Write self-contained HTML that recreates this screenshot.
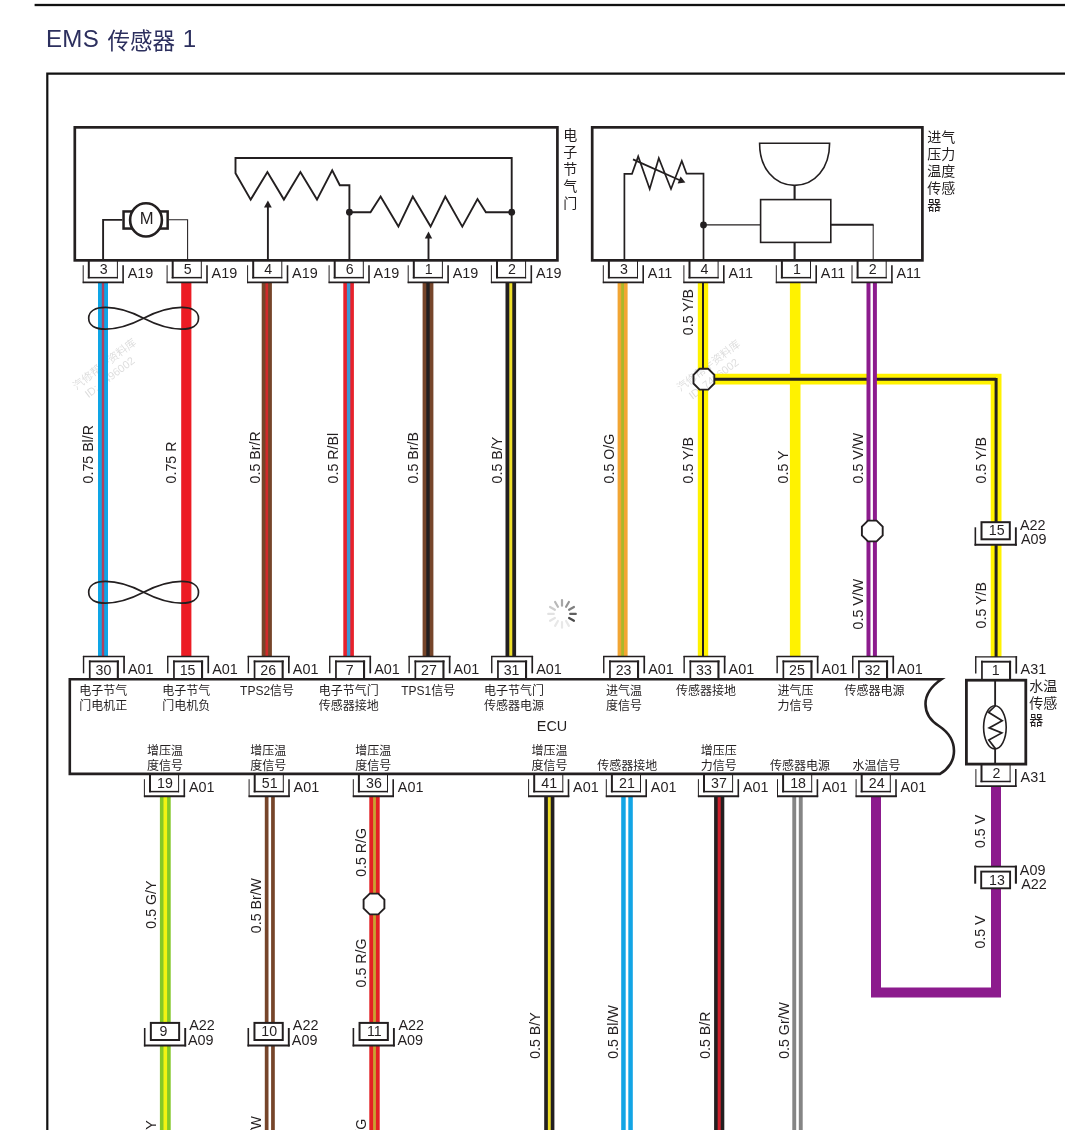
<!DOCTYPE html>
<html lang="zh-CN">
<head>
<meta charset="utf-8">
<title>EMS 传感器 1</title>
<style>
html,body{margin:0;padding:0;background:#fff;}
body{width:1065px;height:1130px;overflow:hidden;position:relative;font-family:"Liberation Sans", "Noto Sans CJK SC", sans-serif;}
svg{position:absolute;left:0;top:0;display:block;will-change:transform;}
text{font-family:"Liberation Sans", "Noto Sans CJK SC", sans-serif;fill:#231f20;}
.n{font-size:14.2px;}
.l{font-size:14.4px;}
.w{font-size:14.2px;}
.c{font-size:12px;}
.s{font-size:14px;}
.h{font-size:23.8px;fill:#2c2f5e;}
.wm{font-size:10.9px;fill:#000;fill-opacity:0.14;}
</style>
</head>
<body>
<svg width="1065" height="1130" viewBox="0 0 1065 1130">
<rect width="1065" height="1130" fill="#fff"/>

<rect x="34.6" y="3.85" width="1030.4" height="2.3" fill="#111"/>
<text x="45.9" y="47.4" class="h"><tspan style="font-size:24.1px;letter-spacing:0.3px">EMS </tspan><tspan x="107.6" dy="2.0" style="font-size:22.5px">传感器</tspan><tspan x="176.0" dy="-2.0" style="font-size:24.1px"> 1</tspan></text>
<path d="M47.3 1130 V73.7 H1065" fill="none" stroke="#111" stroke-width="2.2"/>
<g><g transform="translate(76.6 390.2) rotate(-37.5)"><text x="0" y="0" class="wm">汽修帮手资料库</text><text x="4.5" y="13.6" class="wm">ID: 7496002</text></g></g>
<g><g transform="translate(680.6 391.8) rotate(-37.5)"><text x="0" y="0" class="wm">汽修帮手资料库</text><text x="4.5" y="13.6" class="wm">ID: 7496002</text></g></g>
<rect x="98.00" y="282" width="10" height="375" fill="#0ea5e6"/>
<rect x="101.80" y="282" width="2.4" height="375" fill="#b04060"/>
<rect x="181.20" y="282" width="10.2" height="375" fill="#ec1c24"/>
<rect x="261.70" y="282" width="10.2" height="375" fill="#76452a"/>
<rect x="265.50" y="282" width="2.6" height="375" fill="#d12a2a"/>
<rect x="343.30" y="282" width="10.6" height="375" fill="#e8212b"/>
<rect x="346.90" y="282" width="3.4" height="375" fill="#3f97d2"/>
<rect x="422.60" y="282" width="10.8" height="375" fill="#76452a"/>
<rect x="426.30" y="282" width="3.4" height="375" fill="#231f20"/>
<rect x="505.50" y="282" width="10.6" height="375" fill="#231f20"/>
<rect x="509.30" y="282" width="3.0" height="375" fill="#eedf2a"/>
<rect x="617.60" y="282" width="10.0" height="375" fill="#f2a533"/>
<rect x="621.20" y="282" width="2.8" height="375" fill="#a9b82a"/>
<rect x="697.80" y="282" width="10.4" height="375" fill="#fff200"/>
<rect x="702.00" y="282" width="2.0" height="375" fill="#231f20"/>
<rect x="789.90" y="282" width="10.6" height="375" fill="#fff200"/>
<path d="M703 379.2 H996.1 V657" fill="none" stroke="#fff200" stroke-width="10.8" stroke-linejoin="miter"/>
<path d="M703 379.2 H996.1" fill="none" stroke="#231f20" stroke-width="2.9"/>
<path d="M996.1 378 V657" fill="none" stroke="#231f20" stroke-width="3"/>
<rect x="866.50" y="282" width="10.4" height="375" fill="#8c1b8d"/>
<rect x="870.50" y="282" width="2.4" height="375" fill="#fff"/>
<rect x="159.90" y="796" width="10.8" height="334" fill="#82c828"/>
<rect x="163.50" y="796" width="3.6" height="334" fill="#f1f312"/>
<rect x="264.80" y="796" width="10.0" height="334" fill="#76452a"/>
<rect x="268.50" y="796" width="2.6" height="334" fill="#fff"/>
<rect x="369.30" y="796" width="10.4" height="334" fill="#e32024"/>
<rect x="373.10" y="796" width="2.8" height="334" fill="#c9a032"/>
<rect x="544.20" y="796" width="10.2" height="334" fill="#231f20"/>
<rect x="547.85" y="796" width="2.9" height="334" fill="#ecdc28"/>
<rect x="621.20" y="796" width="11.6" height="334" fill="#12a5e5"/>
<rect x="625.70" y="796" width="2.6" height="334" fill="#fff"/>
<rect x="714.10" y="796" width="10.2" height="334" fill="#231f20"/>
<rect x="717.65" y="796" width="3.1" height="334" fill="#cc202c"/>
<rect x="792.30" y="796" width="10.4" height="334" fill="#858585"/>
<rect x="796.20" y="796" width="2.6" height="334" fill="#fff"/>
<path d="M876 796 V992.6 H996 V786" fill="none" stroke="#8c1b8d" stroke-width="10" stroke-linejoin="miter"/>
<rect x="83.10" y="261.85" width="40" height="20.5" fill="#fff"/>
<line x1="83.20" y1="265.25" x2="83.20" y2="283.15" stroke="#231f20" stroke-width="1.0"/>
<line x1="123.10" y1="265.25" x2="123.10" y2="283.15" stroke="#231f20" stroke-width="1.6"/>
<line x1="82.70" y1="282.30" x2="123.90" y2="282.30" stroke="#231f20" stroke-width="1.8"/>
<line x1="88.80" y1="260.35" x2="88.80" y2="278.35" stroke="#231f20" stroke-width="2.0"/>
<line x1="117.40" y1="260.35" x2="117.40" y2="278.35" stroke="#231f20" stroke-width="1.0"/>
<line x1="87.80" y1="277.65" x2="117.90" y2="277.65" stroke="#231f20" stroke-width="1.5"/>
<text x="103.8" y="273.9" text-anchor="middle" class="n">3</text>
<text x="127.7" y="277.9" class="l">A19</text>
<rect x="167.00" y="261.85" width="40" height="20.5" fill="#fff"/>
<line x1="167.10" y1="265.25" x2="167.10" y2="283.15" stroke="#231f20" stroke-width="1.0"/>
<line x1="207.00" y1="265.25" x2="207.00" y2="283.15" stroke="#231f20" stroke-width="1.6"/>
<line x1="166.60" y1="282.30" x2="207.80" y2="282.30" stroke="#231f20" stroke-width="1.8"/>
<line x1="172.70" y1="260.35" x2="172.70" y2="278.35" stroke="#231f20" stroke-width="2.0"/>
<line x1="201.30" y1="260.35" x2="201.30" y2="278.35" stroke="#231f20" stroke-width="1.0"/>
<line x1="171.70" y1="277.65" x2="201.80" y2="277.65" stroke="#231f20" stroke-width="1.5"/>
<text x="187.7" y="273.9" text-anchor="middle" class="n">5</text>
<text x="211.6" y="277.9" class="l">A19</text>
<rect x="247.50" y="261.85" width="40" height="20.5" fill="#fff"/>
<line x1="247.60" y1="265.25" x2="247.60" y2="283.15" stroke="#231f20" stroke-width="1.0"/>
<line x1="287.50" y1="265.25" x2="287.50" y2="283.15" stroke="#231f20" stroke-width="1.6"/>
<line x1="247.10" y1="282.30" x2="288.30" y2="282.30" stroke="#231f20" stroke-width="1.8"/>
<line x1="253.20" y1="260.35" x2="253.20" y2="278.35" stroke="#231f20" stroke-width="2.0"/>
<line x1="281.80" y1="260.35" x2="281.80" y2="278.35" stroke="#231f20" stroke-width="1.0"/>
<line x1="252.20" y1="277.65" x2="282.30" y2="277.65" stroke="#231f20" stroke-width="1.5"/>
<text x="268.2" y="273.9" text-anchor="middle" class="n">4</text>
<text x="292.1" y="277.9" class="l">A19</text>
<rect x="329.00" y="261.85" width="40" height="20.5" fill="#fff"/>
<line x1="329.10" y1="265.25" x2="329.10" y2="283.15" stroke="#231f20" stroke-width="1.0"/>
<line x1="369.00" y1="265.25" x2="369.00" y2="283.15" stroke="#231f20" stroke-width="1.6"/>
<line x1="328.60" y1="282.30" x2="369.80" y2="282.30" stroke="#231f20" stroke-width="1.8"/>
<line x1="334.70" y1="260.35" x2="334.70" y2="278.35" stroke="#231f20" stroke-width="2.0"/>
<line x1="363.30" y1="260.35" x2="363.30" y2="278.35" stroke="#231f20" stroke-width="1.0"/>
<line x1="333.70" y1="277.65" x2="363.80" y2="277.65" stroke="#231f20" stroke-width="1.5"/>
<text x="349.7" y="273.9" text-anchor="middle" class="n">6</text>
<text x="373.6" y="277.9" class="l">A19</text>
<rect x="408.10" y="261.85" width="40" height="20.5" fill="#fff"/>
<line x1="408.20" y1="265.25" x2="408.20" y2="283.15" stroke="#231f20" stroke-width="1.0"/>
<line x1="448.10" y1="265.25" x2="448.10" y2="283.15" stroke="#231f20" stroke-width="1.6"/>
<line x1="407.70" y1="282.30" x2="448.90" y2="282.30" stroke="#231f20" stroke-width="1.8"/>
<line x1="413.80" y1="260.35" x2="413.80" y2="278.35" stroke="#231f20" stroke-width="2.0"/>
<line x1="442.40" y1="260.35" x2="442.40" y2="278.35" stroke="#231f20" stroke-width="1.0"/>
<line x1="412.80" y1="277.65" x2="442.90" y2="277.65" stroke="#231f20" stroke-width="1.5"/>
<text x="428.8" y="273.9" text-anchor="middle" class="n">1</text>
<text x="452.7" y="277.9" class="l">A19</text>
<rect x="491.30" y="261.85" width="40" height="20.5" fill="#fff"/>
<line x1="491.40" y1="265.25" x2="491.40" y2="283.15" stroke="#231f20" stroke-width="1.0"/>
<line x1="531.30" y1="265.25" x2="531.30" y2="283.15" stroke="#231f20" stroke-width="1.6"/>
<line x1="490.90" y1="282.30" x2="532.10" y2="282.30" stroke="#231f20" stroke-width="1.8"/>
<line x1="497.00" y1="260.35" x2="497.00" y2="278.35" stroke="#231f20" stroke-width="2.0"/>
<line x1="525.60" y1="260.35" x2="525.60" y2="278.35" stroke="#231f20" stroke-width="1.0"/>
<line x1="496.00" y1="277.65" x2="526.10" y2="277.65" stroke="#231f20" stroke-width="1.5"/>
<text x="512.0" y="273.9" text-anchor="middle" class="n">2</text>
<text x="535.9" y="277.9" class="l">A19</text>
<rect x="603.20" y="261.85" width="40" height="20.5" fill="#fff"/>
<line x1="603.30" y1="265.25" x2="603.30" y2="283.15" stroke="#231f20" stroke-width="1.0"/>
<line x1="643.20" y1="265.25" x2="643.20" y2="283.15" stroke="#231f20" stroke-width="1.6"/>
<line x1="602.80" y1="282.30" x2="644.00" y2="282.30" stroke="#231f20" stroke-width="1.8"/>
<line x1="608.90" y1="260.35" x2="608.90" y2="278.35" stroke="#231f20" stroke-width="2.0"/>
<line x1="637.50" y1="260.35" x2="637.50" y2="278.35" stroke="#231f20" stroke-width="1.0"/>
<line x1="607.90" y1="277.65" x2="638.00" y2="277.65" stroke="#231f20" stroke-width="1.5"/>
<text x="623.9" y="273.9" text-anchor="middle" class="n">3</text>
<text x="647.8" y="277.9" class="l">A11</text>
<rect x="683.80" y="261.85" width="40" height="20.5" fill="#fff"/>
<line x1="683.90" y1="265.25" x2="683.90" y2="283.15" stroke="#231f20" stroke-width="1.0"/>
<line x1="723.80" y1="265.25" x2="723.80" y2="283.15" stroke="#231f20" stroke-width="1.6"/>
<line x1="683.40" y1="282.30" x2="724.60" y2="282.30" stroke="#231f20" stroke-width="1.8"/>
<line x1="689.50" y1="260.35" x2="689.50" y2="278.35" stroke="#231f20" stroke-width="2.0"/>
<line x1="718.10" y1="260.35" x2="718.10" y2="278.35" stroke="#231f20" stroke-width="1.0"/>
<line x1="688.50" y1="277.65" x2="718.60" y2="277.65" stroke="#231f20" stroke-width="1.5"/>
<text x="704.5" y="273.9" text-anchor="middle" class="n">4</text>
<text x="728.4" y="277.9" class="l">A11</text>
<rect x="776.20" y="261.85" width="40" height="20.5" fill="#fff"/>
<line x1="776.30" y1="265.25" x2="776.30" y2="283.15" stroke="#231f20" stroke-width="1.0"/>
<line x1="816.20" y1="265.25" x2="816.20" y2="283.15" stroke="#231f20" stroke-width="1.6"/>
<line x1="775.80" y1="282.30" x2="817.00" y2="282.30" stroke="#231f20" stroke-width="1.8"/>
<line x1="781.90" y1="260.35" x2="781.90" y2="278.35" stroke="#231f20" stroke-width="2.0"/>
<line x1="810.50" y1="260.35" x2="810.50" y2="278.35" stroke="#231f20" stroke-width="1.0"/>
<line x1="780.90" y1="277.65" x2="811.00" y2="277.65" stroke="#231f20" stroke-width="1.5"/>
<text x="796.9" y="273.9" text-anchor="middle" class="n">1</text>
<text x="820.8" y="277.9" class="l">A11</text>
<rect x="851.90" y="261.85" width="40" height="20.5" fill="#fff"/>
<line x1="852.00" y1="265.25" x2="852.00" y2="283.15" stroke="#231f20" stroke-width="1.0"/>
<line x1="891.90" y1="265.25" x2="891.90" y2="283.15" stroke="#231f20" stroke-width="1.6"/>
<line x1="851.50" y1="282.30" x2="892.70" y2="282.30" stroke="#231f20" stroke-width="1.8"/>
<line x1="857.60" y1="260.35" x2="857.60" y2="278.35" stroke="#231f20" stroke-width="2.0"/>
<line x1="886.20" y1="260.35" x2="886.20" y2="278.35" stroke="#231f20" stroke-width="1.0"/>
<line x1="856.60" y1="277.65" x2="886.70" y2="277.65" stroke="#231f20" stroke-width="1.5"/>
<text x="872.6" y="273.9" text-anchor="middle" class="n">2</text>
<text x="896.5" y="277.9" class="l">A11</text>
<rect x="83.80" y="656.70" width="40" height="21" fill="#fff"/>
<line x1="83.55" y1="655.90" x2="83.55" y2="673.30" stroke="#231f20" stroke-width="1.4"/>
<line x1="124.05" y1="655.90" x2="124.05" y2="673.30" stroke="#231f20" stroke-width="1.7"/>
<line x1="82.90" y1="656.50" x2="124.90" y2="656.50" stroke="#231f20" stroke-width="1.3"/>
<line x1="89.75" y1="660.50" x2="89.75" y2="679.20" stroke="#231f20" stroke-width="1.7"/>
<line x1="117.85" y1="660.50" x2="117.85" y2="679.20" stroke="#231f20" stroke-width="2.1"/>
<line x1="88.90" y1="661.40" x2="118.90" y2="661.40" stroke="#231f20" stroke-width="1.9"/>
<text x="103.4" y="674.9" text-anchor="middle" class="n">30</text>
<text x="128.0" y="673.7" class="l">A01</text>
<rect x="168.00" y="656.70" width="40" height="21" fill="#fff"/>
<line x1="167.75" y1="655.90" x2="167.75" y2="673.30" stroke="#231f20" stroke-width="1.4"/>
<line x1="208.25" y1="655.90" x2="208.25" y2="673.30" stroke="#231f20" stroke-width="1.7"/>
<line x1="167.10" y1="656.50" x2="209.10" y2="656.50" stroke="#231f20" stroke-width="1.3"/>
<line x1="173.95" y1="660.50" x2="173.95" y2="679.20" stroke="#231f20" stroke-width="1.7"/>
<line x1="202.05" y1="660.50" x2="202.05" y2="679.20" stroke="#231f20" stroke-width="2.1"/>
<line x1="173.10" y1="661.40" x2="203.10" y2="661.40" stroke="#231f20" stroke-width="1.9"/>
<text x="187.6" y="674.9" text-anchor="middle" class="n">15</text>
<text x="212.2" y="673.7" class="l">A01</text>
<rect x="248.60" y="656.70" width="40" height="21" fill="#fff"/>
<line x1="248.35" y1="655.90" x2="248.35" y2="673.30" stroke="#231f20" stroke-width="1.4"/>
<line x1="288.85" y1="655.90" x2="288.85" y2="673.30" stroke="#231f20" stroke-width="1.7"/>
<line x1="247.70" y1="656.50" x2="289.70" y2="656.50" stroke="#231f20" stroke-width="1.3"/>
<line x1="254.55" y1="660.50" x2="254.55" y2="679.20" stroke="#231f20" stroke-width="1.7"/>
<line x1="282.65" y1="660.50" x2="282.65" y2="679.20" stroke="#231f20" stroke-width="2.1"/>
<line x1="253.70" y1="661.40" x2="283.70" y2="661.40" stroke="#231f20" stroke-width="1.9"/>
<text x="268.2" y="674.9" text-anchor="middle" class="n">26</text>
<text x="292.8" y="673.7" class="l">A01</text>
<rect x="330.00" y="656.70" width="40" height="21" fill="#fff"/>
<line x1="329.75" y1="655.90" x2="329.75" y2="673.30" stroke="#231f20" stroke-width="1.4"/>
<line x1="370.25" y1="655.90" x2="370.25" y2="673.30" stroke="#231f20" stroke-width="1.7"/>
<line x1="329.10" y1="656.50" x2="371.10" y2="656.50" stroke="#231f20" stroke-width="1.3"/>
<line x1="335.95" y1="660.50" x2="335.95" y2="679.20" stroke="#231f20" stroke-width="1.7"/>
<line x1="364.05" y1="660.50" x2="364.05" y2="679.20" stroke="#231f20" stroke-width="2.1"/>
<line x1="335.10" y1="661.40" x2="365.10" y2="661.40" stroke="#231f20" stroke-width="1.9"/>
<text x="349.6" y="674.9" text-anchor="middle" class="n">7</text>
<text x="374.2" y="673.7" class="l">A01</text>
<rect x="409.40" y="656.70" width="40" height="21" fill="#fff"/>
<line x1="409.15" y1="655.90" x2="409.15" y2="673.30" stroke="#231f20" stroke-width="1.4"/>
<line x1="449.65" y1="655.90" x2="449.65" y2="673.30" stroke="#231f20" stroke-width="1.7"/>
<line x1="408.50" y1="656.50" x2="450.50" y2="656.50" stroke="#231f20" stroke-width="1.3"/>
<line x1="415.35" y1="660.50" x2="415.35" y2="679.20" stroke="#231f20" stroke-width="1.7"/>
<line x1="443.45" y1="660.50" x2="443.45" y2="679.20" stroke="#231f20" stroke-width="2.1"/>
<line x1="414.50" y1="661.40" x2="444.50" y2="661.40" stroke="#231f20" stroke-width="1.9"/>
<text x="429.0" y="674.9" text-anchor="middle" class="n">27</text>
<text x="453.6" y="673.7" class="l">A01</text>
<rect x="492.00" y="656.70" width="40" height="21" fill="#fff"/>
<line x1="491.75" y1="655.90" x2="491.75" y2="673.30" stroke="#231f20" stroke-width="1.4"/>
<line x1="532.25" y1="655.90" x2="532.25" y2="673.30" stroke="#231f20" stroke-width="1.7"/>
<line x1="491.10" y1="656.50" x2="533.10" y2="656.50" stroke="#231f20" stroke-width="1.3"/>
<line x1="497.95" y1="660.50" x2="497.95" y2="679.20" stroke="#231f20" stroke-width="1.7"/>
<line x1="526.05" y1="660.50" x2="526.05" y2="679.20" stroke="#231f20" stroke-width="2.1"/>
<line x1="497.10" y1="661.40" x2="527.10" y2="661.40" stroke="#231f20" stroke-width="1.9"/>
<text x="511.6" y="674.9" text-anchor="middle" class="n">31</text>
<text x="536.2" y="673.7" class="l">A01</text>
<rect x="604.00" y="656.70" width="40" height="21" fill="#fff"/>
<line x1="603.75" y1="655.90" x2="603.75" y2="673.30" stroke="#231f20" stroke-width="1.4"/>
<line x1="644.25" y1="655.90" x2="644.25" y2="673.30" stroke="#231f20" stroke-width="1.7"/>
<line x1="603.10" y1="656.50" x2="645.10" y2="656.50" stroke="#231f20" stroke-width="1.3"/>
<line x1="609.95" y1="660.50" x2="609.95" y2="679.20" stroke="#231f20" stroke-width="1.7"/>
<line x1="638.05" y1="660.50" x2="638.05" y2="679.20" stroke="#231f20" stroke-width="2.1"/>
<line x1="609.10" y1="661.40" x2="639.10" y2="661.40" stroke="#231f20" stroke-width="1.9"/>
<text x="623.6" y="674.9" text-anchor="middle" class="n">23</text>
<text x="648.2" y="673.7" class="l">A01</text>
<rect x="684.40" y="656.70" width="40" height="21" fill="#fff"/>
<line x1="684.15" y1="655.90" x2="684.15" y2="673.30" stroke="#231f20" stroke-width="1.4"/>
<line x1="724.65" y1="655.90" x2="724.65" y2="673.30" stroke="#231f20" stroke-width="1.7"/>
<line x1="683.50" y1="656.50" x2="725.50" y2="656.50" stroke="#231f20" stroke-width="1.3"/>
<line x1="690.35" y1="660.50" x2="690.35" y2="679.20" stroke="#231f20" stroke-width="1.7"/>
<line x1="718.45" y1="660.50" x2="718.45" y2="679.20" stroke="#231f20" stroke-width="2.1"/>
<line x1="689.50" y1="661.40" x2="719.50" y2="661.40" stroke="#231f20" stroke-width="1.9"/>
<text x="704.0" y="674.9" text-anchor="middle" class="n">33</text>
<text x="728.6" y="673.7" class="l">A01</text>
<rect x="777.40" y="656.70" width="40" height="21" fill="#fff"/>
<line x1="777.15" y1="655.90" x2="777.15" y2="673.30" stroke="#231f20" stroke-width="1.4"/>
<line x1="817.65" y1="655.90" x2="817.65" y2="673.30" stroke="#231f20" stroke-width="1.7"/>
<line x1="776.50" y1="656.50" x2="818.50" y2="656.50" stroke="#231f20" stroke-width="1.3"/>
<line x1="783.35" y1="660.50" x2="783.35" y2="679.20" stroke="#231f20" stroke-width="1.7"/>
<line x1="811.45" y1="660.50" x2="811.45" y2="679.20" stroke="#231f20" stroke-width="2.1"/>
<line x1="782.50" y1="661.40" x2="812.50" y2="661.40" stroke="#231f20" stroke-width="1.9"/>
<text x="797.0" y="674.9" text-anchor="middle" class="n">25</text>
<text x="821.6" y="673.7" class="l">A01</text>
<rect x="853.00" y="656.70" width="40" height="21" fill="#fff"/>
<line x1="852.75" y1="655.90" x2="852.75" y2="673.30" stroke="#231f20" stroke-width="1.4"/>
<line x1="893.25" y1="655.90" x2="893.25" y2="673.30" stroke="#231f20" stroke-width="1.7"/>
<line x1="852.10" y1="656.50" x2="894.10" y2="656.50" stroke="#231f20" stroke-width="1.3"/>
<line x1="858.95" y1="660.50" x2="858.95" y2="679.20" stroke="#231f20" stroke-width="1.7"/>
<line x1="887.05" y1="660.50" x2="887.05" y2="679.20" stroke="#231f20" stroke-width="2.1"/>
<line x1="858.10" y1="661.40" x2="888.10" y2="661.40" stroke="#231f20" stroke-width="1.9"/>
<text x="872.6" y="674.9" text-anchor="middle" class="n">32</text>
<text x="897.2" y="673.7" class="l">A01</text>
<rect x="144.30" y="775.80" width="40" height="20.5" fill="#fff"/>
<line x1="144.40" y1="779.20" x2="144.40" y2="797.10" stroke="#231f20" stroke-width="1.0"/>
<line x1="184.30" y1="779.20" x2="184.30" y2="797.10" stroke="#231f20" stroke-width="1.6"/>
<line x1="143.90" y1="796.25" x2="185.10" y2="796.25" stroke="#231f20" stroke-width="1.8"/>
<line x1="150.00" y1="774.30" x2="150.00" y2="792.30" stroke="#231f20" stroke-width="2.0"/>
<line x1="178.60" y1="774.30" x2="178.60" y2="792.30" stroke="#231f20" stroke-width="1.0"/>
<line x1="149.00" y1="791.60" x2="179.10" y2="791.60" stroke="#231f20" stroke-width="1.5"/>
<text x="165.0" y="787.8" text-anchor="middle" class="n">19</text>
<text x="188.9" y="791.8" class="l">A01</text>
<rect x="249.00" y="775.80" width="40" height="20.5" fill="#fff"/>
<line x1="249.10" y1="779.20" x2="249.10" y2="797.10" stroke="#231f20" stroke-width="1.0"/>
<line x1="289.00" y1="779.20" x2="289.00" y2="797.10" stroke="#231f20" stroke-width="1.6"/>
<line x1="248.60" y1="796.25" x2="289.80" y2="796.25" stroke="#231f20" stroke-width="1.8"/>
<line x1="254.70" y1="774.30" x2="254.70" y2="792.30" stroke="#231f20" stroke-width="2.0"/>
<line x1="283.30" y1="774.30" x2="283.30" y2="792.30" stroke="#231f20" stroke-width="1.0"/>
<line x1="253.70" y1="791.60" x2="283.80" y2="791.60" stroke="#231f20" stroke-width="1.5"/>
<text x="269.7" y="787.8" text-anchor="middle" class="n">51</text>
<text x="293.6" y="791.8" class="l">A01</text>
<rect x="353.20" y="775.80" width="40" height="20.5" fill="#fff"/>
<line x1="353.30" y1="779.20" x2="353.30" y2="797.10" stroke="#231f20" stroke-width="1.0"/>
<line x1="393.20" y1="779.20" x2="393.20" y2="797.10" stroke="#231f20" stroke-width="1.6"/>
<line x1="352.80" y1="796.25" x2="394.00" y2="796.25" stroke="#231f20" stroke-width="1.8"/>
<line x1="358.90" y1="774.30" x2="358.90" y2="792.30" stroke="#231f20" stroke-width="2.0"/>
<line x1="387.50" y1="774.30" x2="387.50" y2="792.30" stroke="#231f20" stroke-width="1.0"/>
<line x1="357.90" y1="791.60" x2="388.00" y2="791.60" stroke="#231f20" stroke-width="1.5"/>
<text x="373.9" y="787.8" text-anchor="middle" class="n">36</text>
<text x="397.8" y="791.8" class="l">A01</text>
<rect x="528.50" y="775.80" width="40" height="20.5" fill="#fff"/>
<line x1="528.60" y1="779.20" x2="528.60" y2="797.10" stroke="#231f20" stroke-width="1.0"/>
<line x1="568.50" y1="779.20" x2="568.50" y2="797.10" stroke="#231f20" stroke-width="1.6"/>
<line x1="528.10" y1="796.25" x2="569.30" y2="796.25" stroke="#231f20" stroke-width="1.8"/>
<line x1="534.20" y1="774.30" x2="534.20" y2="792.30" stroke="#231f20" stroke-width="2.0"/>
<line x1="562.80" y1="774.30" x2="562.80" y2="792.30" stroke="#231f20" stroke-width="1.0"/>
<line x1="533.20" y1="791.60" x2="563.30" y2="791.60" stroke="#231f20" stroke-width="1.5"/>
<text x="549.2" y="787.8" text-anchor="middle" class="n">41</text>
<text x="573.1" y="791.8" class="l">A01</text>
<rect x="606.20" y="775.80" width="40" height="20.5" fill="#fff"/>
<line x1="606.30" y1="779.20" x2="606.30" y2="797.10" stroke="#231f20" stroke-width="1.0"/>
<line x1="646.20" y1="779.20" x2="646.20" y2="797.10" stroke="#231f20" stroke-width="1.6"/>
<line x1="605.80" y1="796.25" x2="647.00" y2="796.25" stroke="#231f20" stroke-width="1.8"/>
<line x1="611.90" y1="774.30" x2="611.90" y2="792.30" stroke="#231f20" stroke-width="2.0"/>
<line x1="640.50" y1="774.30" x2="640.50" y2="792.30" stroke="#231f20" stroke-width="1.0"/>
<line x1="610.90" y1="791.60" x2="641.00" y2="791.60" stroke="#231f20" stroke-width="1.5"/>
<text x="626.9" y="787.8" text-anchor="middle" class="n">21</text>
<text x="650.8" y="791.8" class="l">A01</text>
<rect x="698.30" y="775.80" width="40" height="20.5" fill="#fff"/>
<line x1="698.40" y1="779.20" x2="698.40" y2="797.10" stroke="#231f20" stroke-width="1.0"/>
<line x1="738.30" y1="779.20" x2="738.30" y2="797.10" stroke="#231f20" stroke-width="1.6"/>
<line x1="697.90" y1="796.25" x2="739.10" y2="796.25" stroke="#231f20" stroke-width="1.8"/>
<line x1="704.00" y1="774.30" x2="704.00" y2="792.30" stroke="#231f20" stroke-width="2.0"/>
<line x1="732.60" y1="774.30" x2="732.60" y2="792.30" stroke="#231f20" stroke-width="1.0"/>
<line x1="703.00" y1="791.60" x2="733.10" y2="791.60" stroke="#231f20" stroke-width="1.5"/>
<text x="719.0" y="787.8" text-anchor="middle" class="n">37</text>
<text x="742.9" y="791.8" class="l">A01</text>
<rect x="777.40" y="775.80" width="40" height="20.5" fill="#fff"/>
<line x1="777.50" y1="779.20" x2="777.50" y2="797.10" stroke="#231f20" stroke-width="1.0"/>
<line x1="817.40" y1="779.20" x2="817.40" y2="797.10" stroke="#231f20" stroke-width="1.6"/>
<line x1="777.00" y1="796.25" x2="818.20" y2="796.25" stroke="#231f20" stroke-width="1.8"/>
<line x1="783.10" y1="774.30" x2="783.10" y2="792.30" stroke="#231f20" stroke-width="2.0"/>
<line x1="811.70" y1="774.30" x2="811.70" y2="792.30" stroke="#231f20" stroke-width="1.0"/>
<line x1="782.10" y1="791.60" x2="812.20" y2="791.60" stroke="#231f20" stroke-width="1.5"/>
<text x="798.1" y="787.8" text-anchor="middle" class="n">18</text>
<text x="822.0" y="791.8" class="l">A01</text>
<rect x="856.00" y="775.80" width="40" height="20.5" fill="#fff"/>
<line x1="856.10" y1="779.20" x2="856.10" y2="797.10" stroke="#231f20" stroke-width="1.0"/>
<line x1="896.00" y1="779.20" x2="896.00" y2="797.10" stroke="#231f20" stroke-width="1.6"/>
<line x1="855.60" y1="796.25" x2="896.80" y2="796.25" stroke="#231f20" stroke-width="1.8"/>
<line x1="861.70" y1="774.30" x2="861.70" y2="792.30" stroke="#231f20" stroke-width="2.0"/>
<line x1="890.30" y1="774.30" x2="890.30" y2="792.30" stroke="#231f20" stroke-width="1.0"/>
<line x1="860.70" y1="791.60" x2="890.80" y2="791.60" stroke="#231f20" stroke-width="1.5"/>
<text x="876.7" y="787.8" text-anchor="middle" class="n">24</text>
<text x="900.6" y="791.8" class="l">A01</text>
<rect x="976.00" y="657.00" width="40" height="21" fill="#fff"/>
<line x1="975.75" y1="656.20" x2="975.75" y2="673.60" stroke="#231f20" stroke-width="1.4"/>
<line x1="1016.25" y1="656.20" x2="1016.25" y2="673.60" stroke="#231f20" stroke-width="1.7"/>
<line x1="975.10" y1="656.80" x2="1017.10" y2="656.80" stroke="#231f20" stroke-width="1.3"/>
<line x1="981.95" y1="660.80" x2="981.95" y2="679.50" stroke="#231f20" stroke-width="1.7"/>
<line x1="1010.05" y1="660.80" x2="1010.05" y2="679.50" stroke="#231f20" stroke-width="2.1"/>
<line x1="981.10" y1="661.70" x2="1011.10" y2="661.70" stroke="#231f20" stroke-width="1.9"/>
<text x="995.6" y="675.2" text-anchor="middle" class="n">1</text>
<text x="1020.6" y="674.0" class="l">A31</text>
<rect x="975.80" y="765.70" width="40" height="20.5" fill="#fff"/>
<line x1="975.90" y1="769.10" x2="975.90" y2="787.00" stroke="#231f20" stroke-width="1.0"/>
<line x1="1015.80" y1="769.10" x2="1015.80" y2="787.00" stroke="#231f20" stroke-width="1.6"/>
<line x1="975.40" y1="786.15" x2="1016.60" y2="786.15" stroke="#231f20" stroke-width="1.8"/>
<line x1="981.50" y1="764.20" x2="981.50" y2="782.20" stroke="#231f20" stroke-width="2.0"/>
<line x1="1010.10" y1="764.20" x2="1010.10" y2="782.20" stroke="#231f20" stroke-width="1.0"/>
<line x1="980.50" y1="781.50" x2="1010.60" y2="781.50" stroke="#231f20" stroke-width="1.5"/>
<text x="996.5" y="777.7" text-anchor="middle" class="n">2</text>
<text x="1020.6" y="781.7" class="l">A31</text>
<rect x="74.8" y="127.35" width="482.6" height="133" fill="#fff" stroke="#231f20" stroke-width="2.7"/>
<path d="M122.3 219.9 H103.1 V260" fill="none" stroke="#231f20" stroke-width="1.9"/>
<path d="M168.9 219.7 H187.6 V260" fill="none" stroke="#231f20" stroke-width="1.05"/>
<rect x="123.55" y="211.45" width="44.1" height="17.1" fill="#fff" stroke="#231f20" stroke-width="2.5"/>
<ellipse cx="146.0" cy="219.9" rx="15.9" ry="16.6" fill="#fff" stroke="#231f20" stroke-width="2.6"/>
<text x="146.6" y="224.1" text-anchor="middle" style="font-size:16.6px">M</text>
<path d="M349.4 260 V185.3 H339.8 L332.2 170.4 L317 199.6 L300.4 172 L283.9 199.6 L267.4 172 L250.7 199.6 L235.5 173.2 V158 H511.7 V260" fill="none" stroke="#231f20" stroke-width="1.9" stroke-linejoin="miter"/>
<path d="M349.4 212.2 H370.5 L380.6 196.6 L398.4 226.6 L412.8 196.6 L430.6 226.6 L445.3 196.6 L462.3 226.6 L477.5 199 L485.9 212.2 H511.7" fill="none" stroke="#231f20" stroke-width="1.9" stroke-linejoin="miter"/>
<circle cx="349.4" cy="212.2" r="3.4" fill="#231f20"/>
<circle cx="511.7" cy="212.2" r="3.4" fill="#231f20"/>
<path d="M267.9 260 V204" fill="none" stroke="#231f20" stroke-width="1.9"/>
<path d="M267.9 200.4 L271.8 207.6 H264 Z" fill="#231f20"/>
<path d="M428.5 260 V236" fill="none" stroke="#231f20" stroke-width="1.9"/>
<path d="M428.5 231.4 L432.2 238.4 H424.8 Z" fill="#231f20"/>
<text x="570.3" y="140.4" text-anchor="middle" class="s">电</text>
<text x="570.3" y="157.3" text-anchor="middle" class="s">子</text>
<text x="570.3" y="174.2" text-anchor="middle" class="s">节</text>
<text x="570.3" y="191.1" text-anchor="middle" class="s">气</text>
<text x="570.3" y="208.0" text-anchor="middle" class="s">门</text>
<rect x="592.2" y="127.35" width="330.2" height="133" fill="#fff" stroke="#231f20" stroke-width="2.7"/>
<path d="M624.4 260 V173.8 H632 L638.2 156.4 L649.7 189 L658.8 158.2 L671.0 189 L681.8 161 L686.5 173.6 H703.5 V260" fill="none" stroke="#231f20" stroke-width="1.7" stroke-linejoin="miter"/>
<path d="M633 159.4 L681 180.7" fill="none" stroke="#231f20" stroke-width="1.8"/>
<path d="M685.4 182.6 L677.6 183.4 L680.6 176.6 Z" fill="#231f20"/>
<circle cx="703.5" cy="224.9" r="3.4" fill="#231f20"/>
<path d="M703.5 224.9 H760.5" fill="none" stroke="#231f20" stroke-width="1.1"/>
<rect x="760.6" y="199.6" width="70.2" height="42.8" fill="#fff" stroke="#231f20" stroke-width="1.6"/>
<path d="M759.6 143.2 H829.6 C829.6 168 815 185.4 794.6 185.4 C774 185.4 759.6 168 759.6 143.2 Z" fill="#fff" stroke="#231f20" stroke-width="1.6"/>
<path d="M794.6 185.4 V199.6 M794.6 242.4 V260" fill="none" stroke="#231f20" stroke-width="2.1"/>
<path d="M830.8 224.8 H873.6" fill="none" stroke="#231f20" stroke-width="1.9"/>
<path d="M873.2 224.8 V260" fill="none" stroke="#231f20" stroke-width="1.0"/>
<text x="927.3" y="141.6" text-anchor="start" class="s">进气</text>
<text x="927.3" y="158.6" text-anchor="start" class="s">压力</text>
<text x="927.3" y="175.6" text-anchor="start" class="s">温度</text>
<text x="927.3" y="192.6" text-anchor="start" class="s">传感</text>
<text x="927.3" y="209.6" text-anchor="start" class="s">器</text>
<path d="M941.5 679.2 H69.8 V773.9 H940 C948 769.5 954 761 954 751 C954 741 948 732 939 726 C931 721 925.5 714 925.5 704 C925.5 694 931.5 686 941.5 679.2 Z" fill="#fff" stroke="#231f20" stroke-width="2.6" stroke-linejoin="miter"/>
<text x="103.2" y="694.6" text-anchor="middle" class="c">电子节气</text>
<text x="103.2" y="709.8" text-anchor="middle" class="c">门电机正</text>
<text x="186.2" y="694.6" text-anchor="middle" class="c">电子节气</text>
<text x="186.2" y="709.8" text-anchor="middle" class="c">门电机负</text>
<text x="267.1" y="694.6" text-anchor="middle" class="c">TPS2信号</text>
<text x="348.8" y="694.6" text-anchor="middle" class="c">电子节气门</text>
<text x="348.8" y="709.8" text-anchor="middle" class="c">传感器接地</text>
<text x="428.2" y="694.6" text-anchor="middle" class="c">TPS1信号</text>
<text x="514.1" y="694.6" text-anchor="middle" class="c">电子节气门</text>
<text x="514.1" y="709.8" text-anchor="middle" class="c">传感器电源</text>
<text x="624.0" y="694.6" text-anchor="middle" class="c">进气温</text>
<text x="624.0" y="709.8" text-anchor="middle" class="c">度信号</text>
<text x="706.0" y="694.6" text-anchor="middle" class="c">传感器接地</text>
<text x="795.5" y="694.6" text-anchor="middle" class="c">进气压</text>
<text x="795.5" y="709.8" text-anchor="middle" class="c">力信号</text>
<text x="874.4" y="694.6" text-anchor="middle" class="c">传感器电源</text>
<text x="552" y="730.9" text-anchor="middle" class="l">ECU</text>
<text x="165.0" y="754.8" text-anchor="middle" class="c">增压温</text>
<text x="165.0" y="770.0" text-anchor="middle" class="c">度信号</text>
<text x="268.2" y="754.8" text-anchor="middle" class="c">增压温</text>
<text x="268.2" y="770.0" text-anchor="middle" class="c">度信号</text>
<text x="373.2" y="754.8" text-anchor="middle" class="c">增压温</text>
<text x="373.2" y="770.0" text-anchor="middle" class="c">度信号</text>
<text x="549.6" y="754.8" text-anchor="middle" class="c">增压温</text>
<text x="549.6" y="770.0" text-anchor="middle" class="c">度信号</text>
<text x="627.3" y="770.0" text-anchor="middle" class="c">传感器接地</text>
<text x="718.8" y="754.8" text-anchor="middle" class="c">增压压</text>
<text x="718.8" y="770.0" text-anchor="middle" class="c">力信号</text>
<text x="800.0" y="770.0" text-anchor="middle" class="c">传感器电源</text>
<text x="876.5" y="770.0" text-anchor="middle" class="c">水温信号</text>
<rect x="966.4" y="680.2" width="59.4" height="83.9" fill="#fff" stroke="#231f20" stroke-width="2.8"/>
<path d="M995.2 680 V764" fill="none" stroke="#231f20" stroke-width="1.2"/>
<ellipse cx="994.9" cy="727.3" rx="11.3" ry="21.6" fill="#fff" stroke="#231f20" stroke-width="1.6"/>
<path d="M995.2 680 V706 L988.5 712.3 L1002.2 720.8 L989.2 727.9 L1001.8 732.9 L988.8 740.1 L995.2 748.4 V764" fill="none" stroke="#231f20" stroke-width="1.7" stroke-linejoin="miter"/>
<text x="1029.3" y="691.4" text-anchor="start" class="s">水温</text>
<text x="1029.3" y="708.4" text-anchor="start" class="s">传感</text>
<text x="1029.3" y="725.4" text-anchor="start" class="s">器</text>
<path d="M143.6 318.3 C115.6 303.84 88.69999999999999 303.84 88.69999999999999 318.3 C88.69999999999999 332.76 115.6 332.76 143.6 318.3 C171.6 303.84 198.5 303.84 198.5 318.3 C198.5 332.76 171.6 332.76 143.6 318.3Z" fill="none" stroke="#231f20" stroke-width="1.7"/>
<path d="M143.6 592.3 C115.6 577.84 88.69999999999999 577.84 88.69999999999999 592.3 C88.69999999999999 606.76 115.6 606.76 143.6 592.3 C171.6 577.84 198.5 577.84 198.5 592.3 C198.5 606.76 171.6 606.76 143.6 592.3Z" fill="none" stroke="#231f20" stroke-width="1.7"/>
<polygon points="699.59,368.80 708.21,368.80 714.30,374.89 714.30,383.51 708.21,389.60 699.59,389.60 693.50,383.51 693.50,374.89" fill="#fff" stroke="#231f20" stroke-width="1.9"/>
<polygon points="867.99,520.60 876.61,520.60 882.70,526.69 882.70,535.31 876.61,541.40 867.99,541.40 861.90,535.31 861.90,526.69" fill="#fff" stroke="#231f20" stroke-width="1.9"/>
<polygon points="369.69,893.60 378.31,893.60 384.40,899.69 384.40,908.31 378.31,914.40 369.69,914.40 363.60,908.31 363.60,899.69" fill="#fff" stroke="#231f20" stroke-width="1.9"/>
<rect x="975.65" y="527.20" width="40" height="17.5" fill="#fff"/>
<line x1="975.35" y1="527.30" x2="975.35" y2="545.70" stroke="#231f20" stroke-width="1.6"/>
<line x1="1015.85" y1="527.30" x2="1015.85" y2="545.70" stroke="#231f20" stroke-width="1.9"/>
<line x1="974.55" y1="544.70" x2="1016.80" y2="544.70" stroke="#231f20" stroke-width="2.0"/>
<rect x="981.50" y="522.20" width="28.3" height="17.1" fill="#fff" stroke="#231f20" stroke-width="2.0"/>
<text x="996.7" y="535.3" text-anchor="middle" class="n">15</text>
<text x="1019.9" y="529.6" class="l">A22</text>
<text x="1021.0" y="544.0" class="l">A09</text>
<rect x="145.00" y="1027.90" width="40" height="17.5" fill="#fff"/>
<line x1="144.70" y1="1028.00" x2="144.70" y2="1046.40" stroke="#231f20" stroke-width="1.6"/>
<line x1="185.20" y1="1028.00" x2="185.20" y2="1046.40" stroke="#231f20" stroke-width="1.9"/>
<line x1="143.90" y1="1045.40" x2="186.15" y2="1045.40" stroke="#231f20" stroke-width="2.0"/>
<rect x="150.85" y="1022.90" width="28.3" height="17.1" fill="#fff" stroke="#231f20" stroke-width="2.0"/>
<text x="163.5" y="1036.0" text-anchor="middle" class="n">9</text>
<text x="189.2" y="1030.3" class="l">A22</text>
<text x="188.0" y="1044.7" class="l">A09</text>
<rect x="248.60" y="1027.90" width="40" height="17.5" fill="#fff"/>
<line x1="248.30" y1="1028.00" x2="248.30" y2="1046.40" stroke="#231f20" stroke-width="1.6"/>
<line x1="288.80" y1="1028.00" x2="288.80" y2="1046.40" stroke="#231f20" stroke-width="1.9"/>
<line x1="247.50" y1="1045.40" x2="289.75" y2="1045.40" stroke="#231f20" stroke-width="2.0"/>
<rect x="254.45" y="1022.90" width="28.3" height="17.1" fill="#fff" stroke="#231f20" stroke-width="2.0"/>
<text x="269.2" y="1036.0" text-anchor="middle" class="n">10</text>
<text x="292.8" y="1030.3" class="l">A22</text>
<text x="291.8" y="1044.7" class="l">A09</text>
<rect x="353.70" y="1027.90" width="40" height="17.5" fill="#fff"/>
<line x1="353.40" y1="1028.00" x2="353.40" y2="1046.40" stroke="#231f20" stroke-width="1.6"/>
<line x1="393.90" y1="1028.00" x2="393.90" y2="1046.40" stroke="#231f20" stroke-width="1.9"/>
<line x1="352.60" y1="1045.40" x2="394.85" y2="1045.40" stroke="#231f20" stroke-width="2.0"/>
<rect x="359.55" y="1022.90" width="28.3" height="17.1" fill="#fff" stroke="#231f20" stroke-width="2.0"/>
<text x="374.3" y="1036.0" text-anchor="middle" class="n">11</text>
<text x="398.4" y="1030.3" class="l">A22</text>
<text x="397.4" y="1044.7" class="l">A09</text>
<rect x="975.65" y="866.60" width="40" height="17" fill="#fff"/>
<line x1="975.20" y1="865.65" x2="975.20" y2="883.70" stroke="#231f20" stroke-width="2.0"/>
<line x1="1015.90" y1="865.65" x2="1015.90" y2="883.70" stroke="#231f20" stroke-width="2.1"/>
<line x1="974.25" y1="866.60" x2="1016.95" y2="866.60" stroke="#231f20" stroke-width="1.9"/>
<rect x="981.20" y="871.60" width="28.9" height="16.7" fill="#fff" stroke="#231f20" stroke-width="1.9"/>
<text x="996.9" y="885.4" text-anchor="middle" class="n">13</text>
<text x="1019.8" y="874.7" class="l">A09</text>
<text x="1021.2" y="888.7" class="l">A22</text>
<text transform="translate(93.0 483.4) rotate(-90)" text-anchor="start" class="w">0.75 Bl/R</text>
<text transform="translate(176.0 483.4) rotate(-90)" text-anchor="start" class="w">0.75 R</text>
<text transform="translate(260.0 483.4) rotate(-90)" text-anchor="start" class="w">0.5 Br/R</text>
<text transform="translate(338.3 483.4) rotate(-90)" text-anchor="start" class="w">0.5 R/Bl</text>
<text transform="translate(418.0 483.4) rotate(-90)" text-anchor="start" class="w">0.5 Br/B</text>
<text transform="translate(501.6 483.4) rotate(-90)" text-anchor="start" class="w">0.5 B/Y</text>
<text transform="translate(613.6 483.4) rotate(-90)" text-anchor="start" class="w">0.5 O/G</text>
<text transform="translate(693.2 483.4) rotate(-90)" text-anchor="start" class="w">0.5 Y/B</text>
<text transform="translate(787.8 483.4) rotate(-90)" text-anchor="start" class="w">0.5 Y</text>
<text transform="translate(863.2 483.4) rotate(-90)" text-anchor="start" class="w">0.5 V/W</text>
<text transform="translate(986.0 483.4) rotate(-90)" text-anchor="start" class="w">0.5 Y/B</text>
<text transform="translate(693.2 335.2) rotate(-90)" text-anchor="start" class="w">0.5 Y/B</text>
<text transform="translate(863.2 629.4) rotate(-90)" text-anchor="start" class="w">0.5 V/W</text>
<text transform="translate(986.0 628.4) rotate(-90)" text-anchor="start" class="w">0.5 Y/B</text>
<text transform="translate(156.4 904.6) rotate(-90)" text-anchor="middle" class="w">0.5 G/Y</text>
<text transform="translate(261.2 905.6) rotate(-90)" text-anchor="middle" class="w">0.5 Br/W</text>
<text transform="translate(365.6 852.4) rotate(-90)" text-anchor="middle" class="w">0.5 R/G</text>
<text transform="translate(366.0 963.0) rotate(-90)" text-anchor="middle" class="w">0.5 R/G</text>
<text transform="translate(540.4 1058.8) rotate(-90)" text-anchor="start" class="w">0.5 B/Y</text>
<text transform="translate(618.0 1058.8) rotate(-90)" text-anchor="start" class="w">0.5 Bl/W</text>
<text transform="translate(710.4 1058.8) rotate(-90)" text-anchor="start" class="w">0.5 B/R</text>
<text transform="translate(789.0 1058.8) rotate(-90)" text-anchor="start" class="w">0.5 Gr/W</text>
<text transform="translate(985.4 848.0) rotate(-90)" text-anchor="start" class="w">0.5 V</text>
<text transform="translate(985.4 948.6) rotate(-90)" text-anchor="start" class="w">0.5 V</text>
<text transform="translate(156.4 1144.4) rotate(-90)" text-anchor="middle" class="w">0.5 G/Y</text>
<text transform="translate(261.2 1143.6) rotate(-90)" text-anchor="middle" class="w">0.5 Br/W</text>
<text transform="translate(366.0 1143.2) rotate(-90)" text-anchor="middle" class="w">0.5 R/G</text>
<clipPath id="oc"><circle cx="703.9" cy="379.2" r="9.6"/></clipPath>
<g clip-path="url(#oc)"><g transform="translate(680.6 391.8) rotate(-37.5)"><text x="0" y="0" class="wm">汽修帮手资料库</text><text x="4.5" y="13.6" class="wm">ID: 7496002</text></g></g>
<line x1="562.00" y1="605.70" x2="562.00" y2="600.10" stroke="#222" stroke-opacity="0.40" stroke-width="2.2" stroke-linecap="round"/>
<line x1="566.10" y1="606.80" x2="568.90" y2="601.95" stroke="#222" stroke-opacity="0.48" stroke-width="2.2" stroke-linecap="round"/>
<line x1="569.10" y1="609.80" x2="573.95" y2="607.00" stroke="#222" stroke-opacity="0.58" stroke-width="2.2" stroke-linecap="round"/>
<line x1="570.20" y1="613.90" x2="575.80" y2="613.90" stroke="#222" stroke-opacity="0.72" stroke-width="2.2" stroke-linecap="round"/>
<line x1="569.10" y1="618.00" x2="573.95" y2="620.80" stroke="#222" stroke-opacity="0.82" stroke-width="2.2" stroke-linecap="round"/>
<line x1="566.10" y1="621.00" x2="568.90" y2="625.85" stroke="#222" stroke-opacity="0.10" stroke-width="2.2" stroke-linecap="round"/>
<line x1="562.00" y1="622.10" x2="562.00" y2="627.70" stroke="#222" stroke-opacity="0.10" stroke-width="2.2" stroke-linecap="round"/>
<line x1="557.90" y1="621.00" x2="555.10" y2="625.85" stroke="#222" stroke-opacity="0.10" stroke-width="2.2" stroke-linecap="round"/>
<line x1="554.90" y1="618.00" x2="550.05" y2="620.80" stroke="#222" stroke-opacity="0.12" stroke-width="2.2" stroke-linecap="round"/>
<line x1="553.80" y1="613.90" x2="548.20" y2="613.90" stroke="#222" stroke-opacity="0.13" stroke-width="2.2" stroke-linecap="round"/>
<line x1="554.90" y1="609.80" x2="550.05" y2="607.00" stroke="#222" stroke-opacity="0.22" stroke-width="2.2" stroke-linecap="round"/>
<line x1="557.90" y1="606.80" x2="555.10" y2="601.95" stroke="#222" stroke-opacity="0.32" stroke-width="2.2" stroke-linecap="round"/>
</svg>
</body>
</html>
